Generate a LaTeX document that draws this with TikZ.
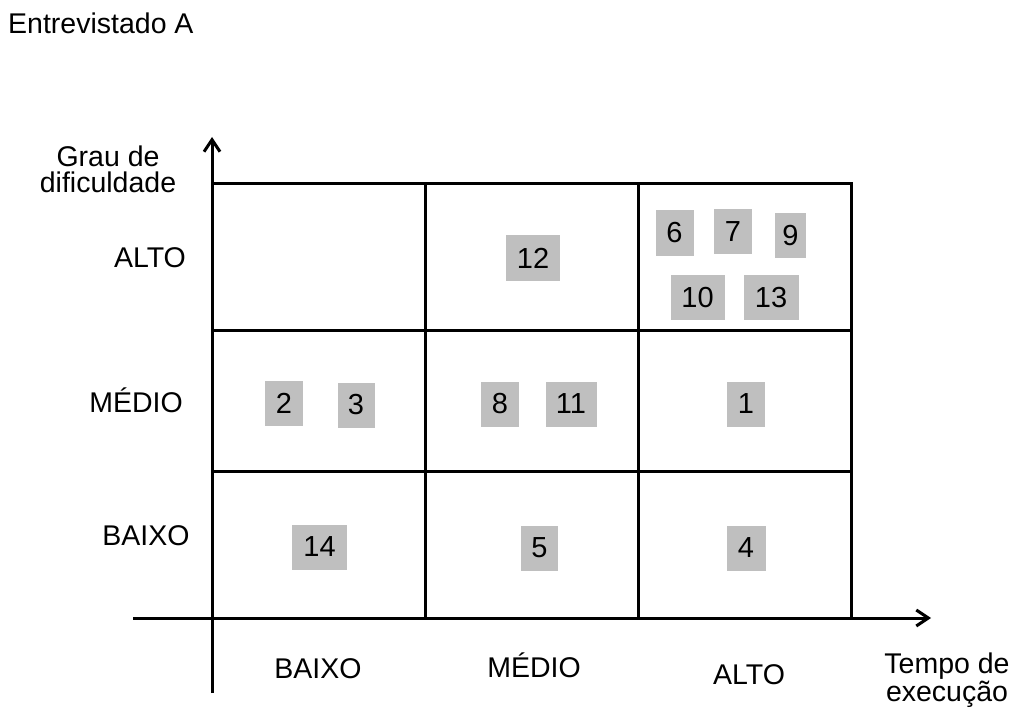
\documentclass[tikz,border=0pt]{standalone}
\usepackage{fontspec}
\setmainfont{Liberation Sans}
\usetikzlibrary{arrows.meta}
\definecolor{boxgray}{HTML}{BFBFBF}

\begin{document}
\begin{tikzpicture}[x=1pt, y=-1pt,
  every node/.style={inner sep=0pt},
  lbl/.style={font=\fontsize{28.5}{26}\selectfont, align=center, anchor=base},
  itm/.style={fill=boxgray, minimum height=45pt, minimum width=38pt,
              font=\fontsize{29}{29}\selectfont},
  cellline/.style={line width=3pt},
  axis/.style={line width=3pt, -{Straight Barb[length=12pt, width=16pt]}}
]
  \useasboundingbox (0,0) rectangle (1011,711);

  \node[lbl, anchor=base west] (title) at (8,34) {Entrevistado A};

  \coordinate (ybot) at (212,693);
  \coordinate (ytop) at (212,137);
  \coordinate (xleft) at (133,618);
  \coordinate (xright) at (931,618);

  \draw[cellline] (212,184) rectangle (851,618);
  \draw[cellline] (425,184) -- (425,618);
  \draw[cellline] (638,184) -- (638,618);
  \draw[cellline] (212,330) -- (851,330);
  \draw[cellline] (212,471) -- (851,471);

  \draw[axis] (ybot) -- (ytop);
  \draw[axis] (xleft) -- (xright);

  \node[lbl] (ylab) at (108,193) {Grau de\\dificuldade};
  \node[lbl] (xlab) at (947,701) {Tempo de\\execução};

  \node[lbl] (yalto) at (150,267) {ALTO};
  \node[lbl] (ymedio) at (136,412) {MÉDIO};
  \node[lbl] (ybaixo) at (146,545) {BAIXO};

  \node[lbl] (xbaixo) at (318,678) {BAIXO};
  \node[lbl] (xmedio) at (534,677) {MÉDIO};
  \node[lbl] (xalto) at (749,684) {ALTO};

  \node[itm, minimum width=54pt] (i12) at (533,258) {12};
  \node[itm] (i6) at (674.5,233) {6};
  \node[itm] (i7) at (733,231.5) {7};
  \node[itm, minimum width=31pt] (i9) at (790.5,235.5) {9};
  \node[itm, minimum width=54pt] (i10) at (697.5,297.5) {10};
  \node[itm, minimum width=55pt] (i13) at (771,297.5) {13};
  \node[itm] (i2) at (284,403) {2};
  \node[itm, minimum width=37pt] (i3) at (356,405) {3};
  \node[itm] (i8) at (500,404) {8};
  \node[itm, minimum width=51pt] (i11) at (571,404) {11};
  \node[itm] (i1) at (746,404) {1};
  \node[itm, minimum width=55pt] (i14) at (319.5,547) {14};
  \node[itm, minimum width=37pt] (i5) at (539.5,548) {5};
  \node[itm, minimum width=39pt] (i4) at (746,548) {4};
\end{tikzpicture}
\end{document}
